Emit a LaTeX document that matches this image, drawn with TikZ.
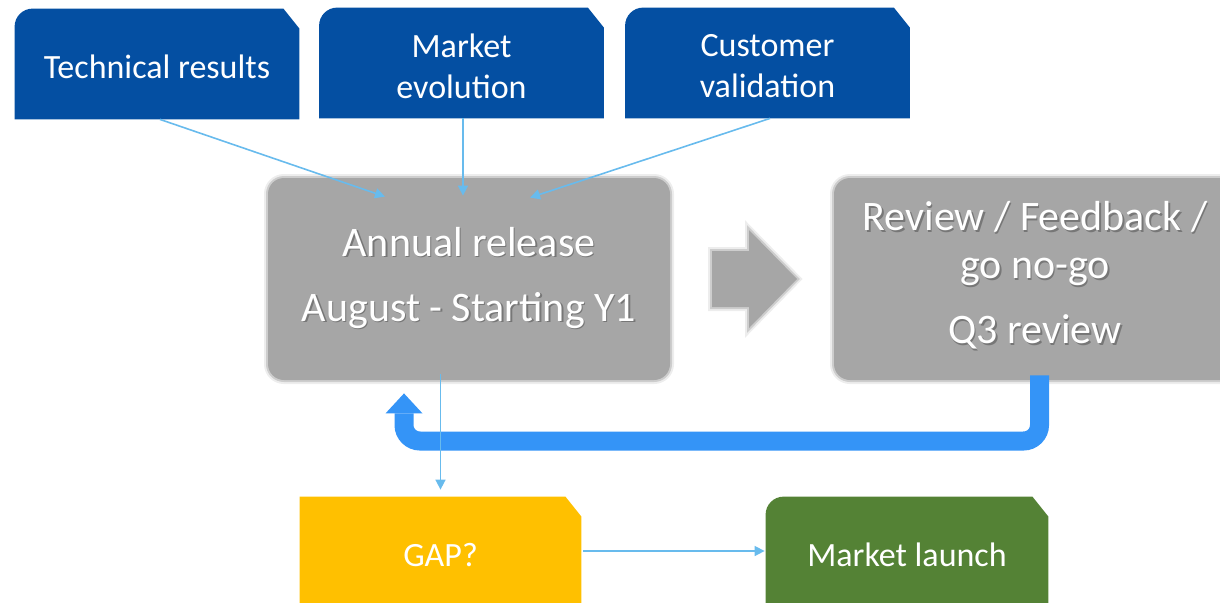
\documentclass[tikz,border=0pt]{standalone}
\usepackage{fontspec}
\setmainfont{Carlito}
\usetikzlibrary{arrows.meta,calc,backgrounds}
\definecolor{boxblue}{RGB}{4,79,162}
\definecolor{thinblue}{RGB}{104,187,237}
\definecolor{fbblue}{RGB}{52,148,247}
\definecolor{boxgray}{RGB}{166,166,166}
\definecolor{gapyellow}{RGB}{255,192,0}
\definecolor{launchgreen}{RGB}{84,130,53}
% shape drawn 1.5pt above the node, so that the text sits slightly low as in the reference
\newcommand\snipfill[3]{%
  \fill[#2] ([yshift=1.5pt]#1.west) [#3] -- ([yshift=1.5pt]#1.north west) -- ([yshift=1.5pt]#1.north) [sharp corners]
    -- ([xshift=-8pt,yshift=1.5pt]#1.north east) -- ([yshift=-8.5pt]#1.north east)
    -- ([yshift=1.5pt]#1.south east) -- ([yshift=1.5pt]#1.south west) -- cycle;}
\begin{document}
\begin{tikzpicture}[x=0.5pt,y=-0.5pt,
  topbox/.style={minimum width=142pt,minimum height=55pt,inner sep=0pt,text=white,align=center,font=\fontsize{17}{20.5}\selectfont},
  soft/.style={preaction={draw=boxgray,line width=4pt,draw opacity=0.2},preaction={draw=boxgray,line width=2pt,draw opacity=0.45}},
  graybox/.style={fill=boxgray,rounded corners=8pt,minimum width=201pt,minimum height=101pt,inner sep=0pt,soft},
  graytext/.style={text=white,align=center,font=\fontsize{21}{24}\selectfont},
  grayshadow/.style={text=black,text opacity=0.28,align=center,font=\fontsize{21}{24}\selectfont},
  thinarrow/.style={draw=thinblue,line width=0.8pt,-{Triangle[length=5pt,width=5pt]}},
  feedback/.style={draw=fbblue,line width=9.5pt,rounded corners=8pt},
]
\useasboundingbox (0,0) rectangle (1220,602);

% top input boxes
\node[topbox] (tech) at (157,67) {Technical results};
\node[topbox] (market) at (461.5,66) {Market\\evolution};
\node[topbox] (customer) at (767.5,66) {Customer\\validation};

% bottom boxes
\node[topbox,minimum width=140.5pt] (gap) at (440.5,555) {GAP?};
\node[topbox,minimum width=141pt] (launch) at (907,555) {Market launch};

\begin{scope}[on background layer]
  \snipfill{tech}{boxblue}{rounded corners=9pt}
  \snipfill{market}{boxblue}{rounded corners=9pt}
  \snipfill{customer}{boxblue}{rounded corners=9pt}
  \snipfill{gap}{gapyellow}{sharp corners}
  \snipfill{launch}{launchgreen}{rounded corners=9pt}
\end{scope}

% gray process boxes
\node[graybox] (annual) at (469,279) {};
\node[grayshadow] (annualshadow) at (470.5,279.5) {Annual release\\[8.5pt]August - Starting Y1};
\node[graytext] (annualtext) at (469,278) {Annual release\\[8.5pt]August - Starting Y1};

\node[graybox] (review) at (1035,279) {};
\node[grayshadow] (reviewshadow) at (1036.5,277) {Review / Feedback /\\go no-go\\[8.5pt]Q3 review};
\node[graytext] (reviewtext) at (1035,275.5) {Review / Feedback /\\go no-go\\[8.5pt]Q3 review};

% block arrow between gray boxes
\fill[boxgray,soft] (712,251) -- (749,251) -- (749,230) -- (797,279) -- (749,328) -- (749,307) -- (712,307) -- cycle;

% input connectors
\draw[thinarrow] ([xshift=1.5pt,yshift=1.5pt]tech.south) -- ($(annual.north)+(-84,19)$);
\draw[thinarrow] ([xshift=0.75pt,yshift=1.5pt]market.south) -- ($(market.south |- annual.north)+(1.5,18)$);
\draw[thinarrow] ([xshift=1.25pt,yshift=1.5pt]customer.south) -- ($(annual.north)+(61,20)$);

% feedback loop
\coordinate (fbStart) at ($(review.south)+(4.5,-5)$);
\coordinate (fbTip) at ($(annual.south)+(-65,13)$);
\coordinate (fbY) at (0,441);
\draw[feedback] (fbStart) -- (fbStart |- fbY) -- (fbTip |- fbY) -- ($(fbTip)+(0,20)$);
\fill[fbblue] ($(fbTip)+(-18.5,20)$) -- ($(fbTip)+(18.5,20)$) -- (fbTip) -- cycle;

% down to GAP and on to launch
\draw[thinarrow] ($(annual.south -| gap.north)+(0,-6)$) -- ($(gap.north)+(0,-10)$);
\draw[thinarrow] ([xshift=1pt,yshift=2pt]gap.east) -- ([xshift=-0.5pt,yshift=2pt]launch.west);
\end{tikzpicture}
\end{document}
